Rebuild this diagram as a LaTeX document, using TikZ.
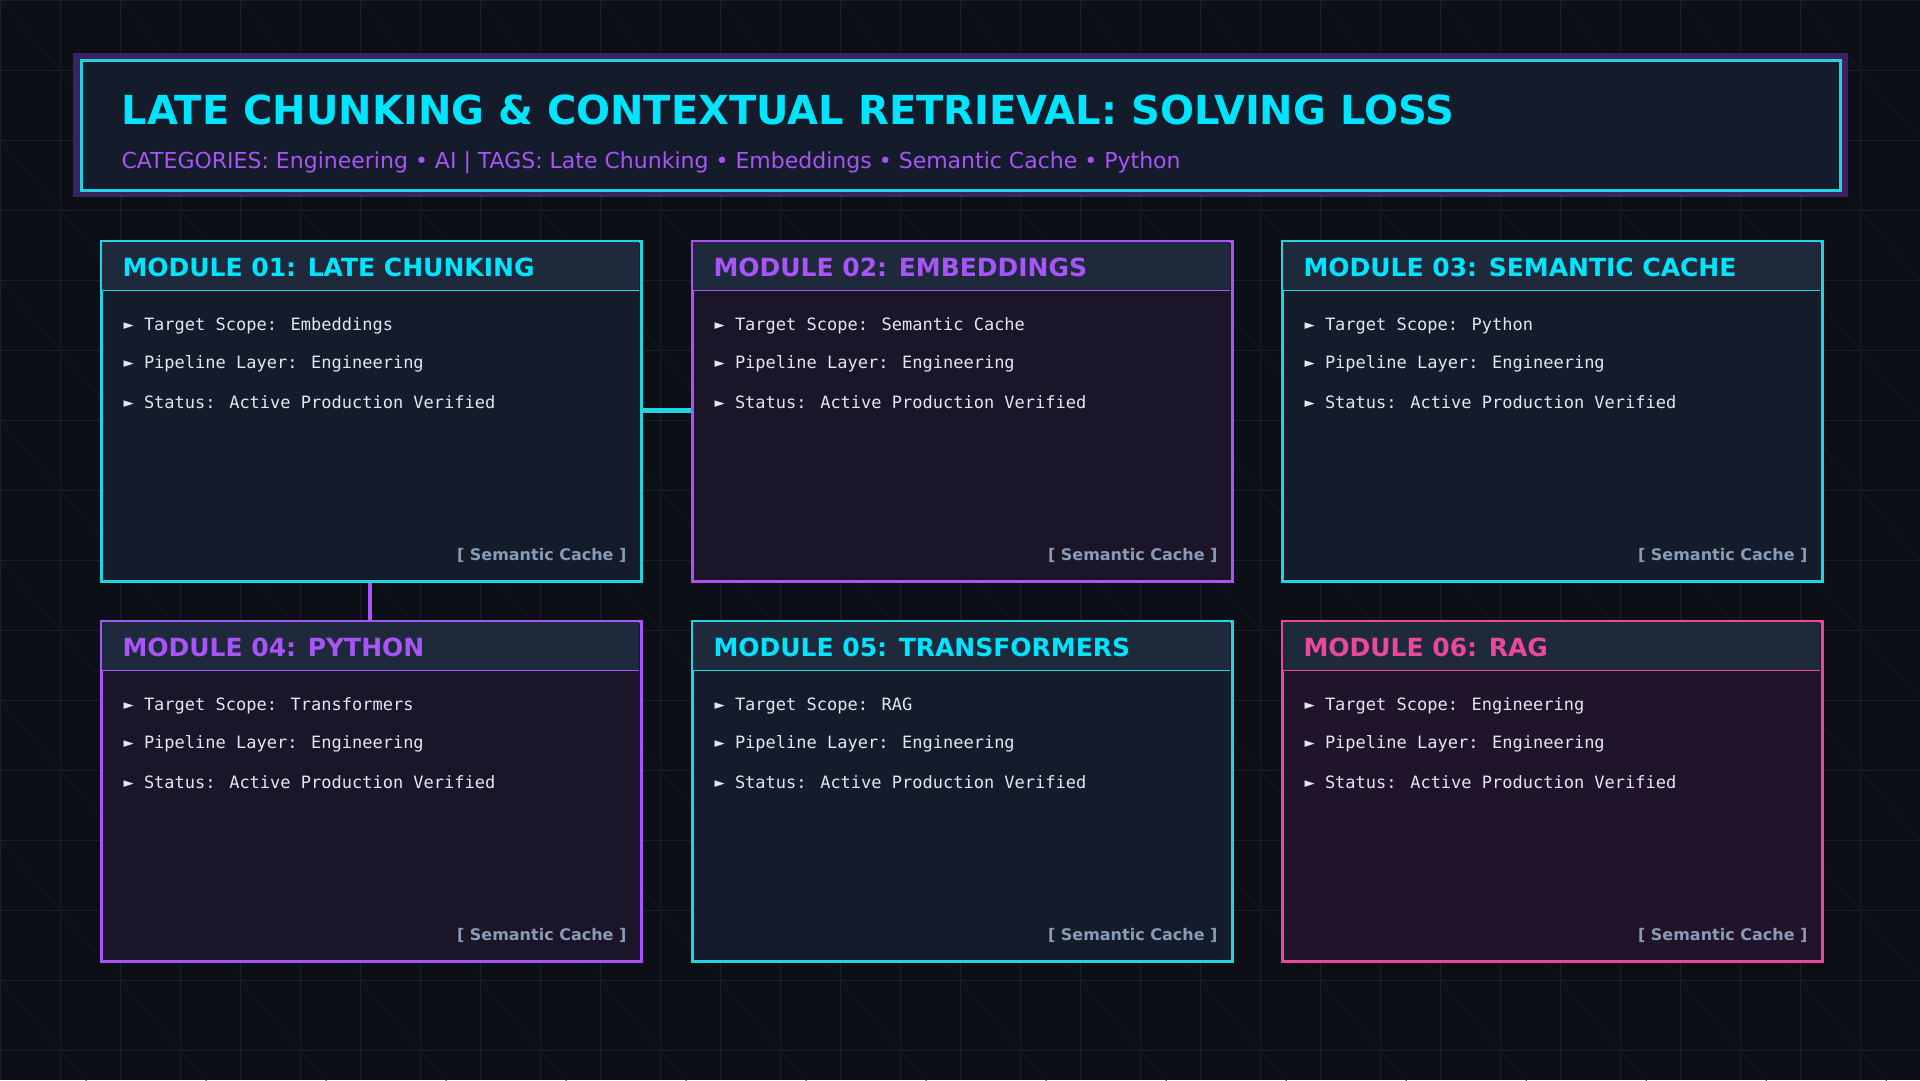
\documentclass[tikz,border=0pt]{standalone}
\usepackage{fontspec}
\setmainfont{DejaVu Sans}
\newfontfamily\monof{DejaVu Sans Mono}
\definecolor{bg}{HTML}{0C0F16}
\definecolor{gridc}{HTML}{1A1F2A}
\definecolor{cy}{HTML}{00E5FF}
\definecolor{cyb}{HTML}{22D3E0}
\definecolor{pu}{HTML}{A855F7}
\definecolor{pk}{HTML}{EC4899}
\definecolor{glow}{HTML}{3B2260}
\definecolor{band}{HTML}{1E293B}
\definecolor{fcy}{HTML}{141B2B}
\definecolor{fpu}{HTML}{1B1529}
\definecolor{fpk}{HTML}{20142A}
\definecolor{foot}{HTML}{8A9BB5}
\definecolor{txt}{HTML}{E2E8F0}
\begin{document}
\begin{tikzpicture}[x=1pt,y=-1pt,
  mtitle/.style={anchor=west,font=\fontsize{25}{30}\selectfont\bfseries},
  bul/.style={anchor=west,text=txt,font=\monof\fontsize{17}{20}\selectfont},
  ft/.style={anchor=east,text=foot,font=\fontsize{16}{19}\selectfont\bfseries}]
\fill[bg] (0,0) rectangle (1920,1080);
\useasboundingbox (0,0) rectangle (1920,1080);
\begin{scope}
\clip (0,0) rectangle (1920,1080);
\foreach \i in {0,...,32} \draw[gridc,line width=0.8] (\i*60,0) -- (\i*60,1080);
\foreach \j in {0,...,16} \draw[gridc,line width=0.8] (0,\j*70) -- (1920,\j*70);
\foreach \i in {-16,...,16} \draw[gridc!80!bg,line width=0.6] (\i*120,0) -- ++(1200,1400);
\end{scope}
% header
\node[draw=glow,line width=8,fill=fcy,minimum width=1767,minimum height=136,inner sep=0] (hdr) at (960.5,125) {};
\draw[cyb,line width=3] (81,60) rectangle (1840,190);
\node[anchor=base west,text=cy,font=\fontsize{40}{48}\selectfont\bfseries] (title) at (118,124) {LATE CHUNKING \& CONTEXTUAL RETRIEVAL: SOLVING LOSS};
\node[anchor=base west,text=pu,font=\fontsize{22}{26}\selectfont] (sub) at (118,168) {CATEGORIES: Engineering • AI | TAGS: Late Chunking • Embeddings • Semantic Cache • Python};
% modules
\foreach \n/\x/\y/\c/\tc/\f/\t/\s in {
 1/100/240/cyb/cy/fcy/{MODULE 01: LATE CHUNKING}/Embeddings,
 2/691/240/pu/pu/fpu/{MODULE 02: EMBEDDINGS}/{Semantic Cache},
 3/1281/240/cyb/cy/fcy/{MODULE 03: SEMANTIC CACHE}/Python,
 4/100/620/pu/pu/fpu/{MODULE 04: PYTHON}/Transformers,
 5/691/620/cyb/cy/fcy/{MODULE 05: TRANSFORMERS}/RAG,
 6/1281/620/pk/pk/fpk/{MODULE 06: RAG}/Engineering}{
 \node[draw=\c,line width=2.5,fill=\f,minimum width=540,minimum height=340,inner sep=0,anchor=north west] (m\n) at (\x,\y) {};
 \fill[band] (\x+1.5,\y+1.5) rectangle (\x+538.5,\y+50);
 \draw[\c,line width=1] (\x+1.5,\y+50) -- (\x+538.5,\y+50);
 \node[mtitle,text=\tc] (t\n) at (\x+19,\y+27) {\t};
 \node[bul] (a\n) at (\x+20,\y+86) {► Target Scope: \s};
 \node[bul] (b\n) at (\x+20,\y+124) {► Pipeline Layer: Engineering};
 \node[bul] (c\n) at (\x+20,\y+162) {► Status: Active Production Verified};
 \node[ft] (f\n) at (\x+530,\y+315) {[ Semantic Cache ]};
}
\draw[cyb,line width=5] (m1.east |- 0,410) -- (m2.west |- 0,410);
\draw[pu,line width=4] (m1.south -| 370,0) -- (m4.north -| 370,0);
\end{tikzpicture}
\end{document}
